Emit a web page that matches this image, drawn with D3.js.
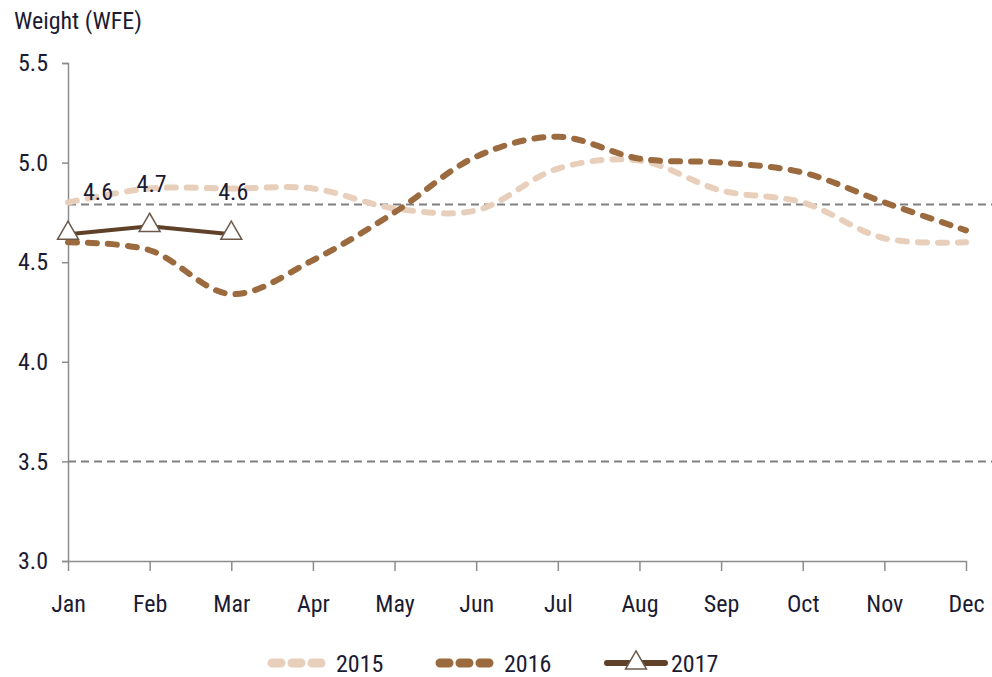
<!DOCTYPE html>
<html>
<head>
<meta charset="utf-8">
<script src="https://cdn.jsdelivr.net/npm/d3@7"></script>
<style>
  body { margin: 0; background: #fff; }
  text { font-family: "Liberation Sans Narrow", "Roboto Condensed", "Open Sans", sans-serif; fill: #1b1b33; }
</style>
</head>
<body>
<div id="chart"></div>
<script>
// data
var months = ["Jan", "Feb", "Mar", "Apr", "May", "Jun", "Jul", "Aug", "Sep", "Oct", "Nov", "Dec"]
var v2015 = [4.80, 4.87, 4.87, 4.87, 4.77, 4.76, 4.97, 5.01, 4.86, 4.80, 4.62, 4.60]
var v2016 = [4.60, 4.56, 4.34, 4.51, 4.75, 5.03, 5.13, 5.02, 5.00, 4.95, 4.80, 4.66]
var v2017 = [4.64, 4.68, 4.64]
var labels2017 = ["4.6", "4.7", "4.6"]
var yTicks = [3.0, 3.5, 4.0, 4.5, 5.0, 5.5]
var refLines = [4.79, 3.5]

var margin = {top: 63, right: 26, bottom: 116, left: 68},
    width = 992 - margin.left - margin.right,
    height = 677 - margin.top - margin.bottom;

var svg = d3.select("#chart")
  .append("svg")
  .attr("width", 992)
  .attr("height", 677)
  .append("g")
  .attr("transform", "translate(" + margin.left + "," + margin.top + ")");

var x = d3.scalePoint().domain(months).range([0, width])
var y = d3.scaleLinear().domain([3, 5.5]).range([height, 0])

var fs = "24px"

// title
svg.append("text")
  .attr("x", -54).attr("y", -34)
  .style("font-size", fs)
  .text("Weight (WFE)")

// y axis
var yAxis = svg.append("g")
  .call(d3.axisLeft(y).tickValues(yTicks).tickFormat(d3.format(".1f")).tickSize(6).tickPadding(14))
yAxis.select(".domain").attr("stroke", "#8c8c8c").attr("stroke-width", 1.5)
yAxis.selectAll(".tick line").attr("stroke", "#8c8c8c").attr("stroke-width", 1.5)
yAxis.selectAll("text").style("font-size", fs).attr("fill", "#1b1b33")

// x axis
var xAxis = svg.append("g")
  .attr("transform", "translate(0," + height + ")")
  .call(d3.axisBottom(x).tickSize(10).tickSizeOuter(0).tickPadding(24))
xAxis.select(".domain").attr("stroke", "#8c8c8c").attr("stroke-width", 1.5)
xAxis.selectAll(".tick line").attr("stroke", "#8c8c8c").attr("stroke-width", 1.5)
xAxis.selectAll("text").style("font-size", fs).attr("fill", "#1b1b33")

// reference lines
svg.selectAll(".ref")
  .data(refLines).enter()
  .append("line")
  .attr("x1", 0).attr("x2", width + 26)
  .attr("y1", function(d) { return y(d) }).attr("y2", function(d) { return y(d) })
  .attr("stroke", "#808080").attr("stroke-width", 2)
  .attr("stroke-dasharray", "8,5")

var line = d3.line()
  .x(function(d, i) { return x(months[i]) })
  .y(function(d) { return y(d) })
  .curve(d3.curveCatmullRom.alpha(0.5))

var series = [
  {name: "2015", values: v2015, color: "#e8cfbb", dash: "9,11", width: 6},
  {name: "2016", values: v2016, color: "#9b6a3f", dash: "9,11", width: 6}
]

series.forEach(function(s) {
  svg.append("path")
    .datum(s.values)
    .attr("d", line)
    .attr("fill", "none")
    .attr("stroke", s.color)
    .attr("stroke-width", s.width)
    .attr("stroke-linecap", "round")
    .attr("stroke-dasharray", s.dash)
})

// 2017 solid line with triangles
svg.append("path")
  .datum(v2017)
  .attr("d", d3.line().x(function(d, i) { return x(months[i]) }).y(function(d) { return y(d) }))
  .attr("fill", "none")
  .attr("stroke", "#5e4128")
  .attr("stroke-width", 4)

var tri = d3.symbol().type(d3.symbolTriangle).size(190)
svg.selectAll(".tri")
  .data(v2017).enter()
  .append("path")
  .attr("d", tri)
  .attr("transform", function(d, i) { return "translate(" + x(months[i]) + "," + (y(d) - 1) + ")" })
  .attr("fill", "#fff")
  .attr("stroke", "#6b5a4c")
  .attr("stroke-width", 1.5)

svg.selectAll(".lbl")
  .data(v2017).enter()
  .append("text")
  .attr("x", function(d, i) { return x(months[i]) + (i == 0 ? 30 : 2) })
  .attr("y", function(d) { return y(d) - 34 })
  .attr("text-anchor", "middle")
  .style("font-size", fs)
  .text(function(d, i) { return labels2017[i] })

// legend
var legend = [
  {name: "2015", color: "#e8cfbb", x: 272, solid: false},
  {name: "2016", color: "#9b6a3f", x: 440, solid: false},
  {name: "2017", color: "#5e4128", x: 607, solid: true}
]
var lg = d3.select("svg").append("g")
legend.forEach(function(l) {
  var ly = 663
  if (l.solid) {
    lg.append("line").attr("x1", l.x).attr("x2", l.x + 58).attr("y1", ly).attr("y2", ly)
      .attr("stroke", l.color).attr("stroke-width", 6).attr("stroke-linecap", "round")
    lg.append("path").attr("d", tri)
      .attr("transform", "translate(" + (l.x + 29) + "," + ly + ")")
      .attr("fill", "#fff").attr("stroke", "#6b5a4c").attr("stroke-width", 1.5)
  } else {
    lg.append("line").attr("x1", l.x).attr("x2", l.x + 58).attr("y1", ly).attr("y2", ly)
      .attr("stroke", l.color).attr("stroke-width", 9).attr("stroke-linecap", "round")
      .attr("stroke-dasharray", "9,11")
  }
  lg.append("text").attr("x", l.x + 64).attr("y", ly + 9)
    .style("font-size", fs).text(l.name)
})
</script>
</body>
</html>
